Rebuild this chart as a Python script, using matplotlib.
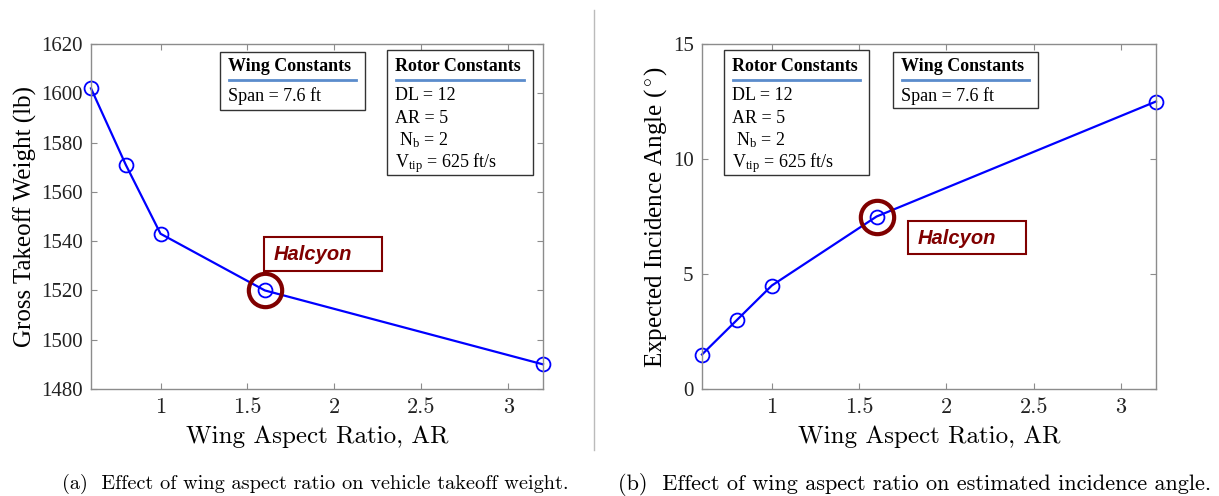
import numpy as np
import matplotlib.pyplot as plt
from matplotlib.patches import Rectangle
from matplotlib.lines import Line2D

# data
ar = [0.6, 0.8, 1.0, 1.6, 3.2]
gtow = [1602, 1571, 1543, 1520, 1490]
incidence = [1.5, 3.0, 4.5, 7.5, 12.5]
halcyon_ar = 1.6
halcyon_gtow = 1520
halcyon_inc = 7.5

xticks = [1, 1.5, 2, 2.5, 3]
xticklabels = ['1', '1.5', '2', '2.5', '3']
gtow_ticks = [1480, 1500, 1520, 1540, 1560, 1580, 1600, 1620]
inc_ticks = [0, 5, 10, 15]

wing_lines = ['Span = 7.6 ft']
rotor_lines = ['DL = 12', 'AR = 5', r' N$_\mathrm{b}$ = 2', r'V$_\mathrm{tip}$ = 625 ft/s']

W, H = 1219, 496
plt.rcParams['mathtext.fontset'] = 'custom'
plt.rcParams['mathtext.rm'] = 'Liberation Serif'
plt.rcParams['mathtext.it'] = 'Liberation Serif:italic'

TIMES = 'Liberation Serif'
CM = 'cmr10'
DARKRED = '#800000'
GRAY = '#8c8c8c'

fig = plt.figure(figsize=(W/100, H/100), dpi=100)


def fx(x):
    return x / W


def fy(y):
    return 1 - y / H


def axes_px(l, t, r, b):
    return fig.add_axes([fx(l), fy(b), (r - l) / W, (b - t) / H])


def const_box(l, t, r, b, title, lines):
    fig.patches.append(Rectangle((fx(l), fy(b)), (r - l) / W, (b - t) / H,
                                 transform=fig.transFigure, fill=True, fc='white',
                                 ec='#333333', lw=1.0, zorder=5))
    fig.text(fx(l + 8), fy(67), title, family=TIMES, weight='bold', fontsize=13,
             va='center', ha='left', zorder=6)
    fig.add_artist(Line2D([fx(l + 9), fx(r - 9)], [fy(80), fy(80)],
                          transform=fig.transFigure, color='#5b8ccc', lw=2, zorder=6))
    for i, s in enumerate(lines):
        fig.text(fx(l + 8), fy(96 + 22.3 * i), s, family=TIMES, fontsize=13,
                 va='center', ha='left', zorder=6)


def halcyon_box(l, t, r, b):
    fig.patches.append(Rectangle((fx(l), fy(b)), (r - l) / W, (b - t) / H,
                                 transform=fig.transFigure, fill=True, fc='white',
                                 ec=DARKRED, lw=1.5, zorder=5))
    fig.text(fx(l + 10), fy((t + b) / 2 + 1), 'Halcyon', family='Liberation Sans',
             weight='bold', style='italic', fontsize=14.5, color=DARKRED,
             va='center', ha='left', zorder=6)


def style_axes(ax, yticks):
    ax.set_xlim(0.6, 3.2)
    ax.set_xticks(xticks)
    ax.set_xticklabels(xticklabels, family=CM, fontsize=16)
    ax.set_yticks(yticks)
    ax.set_yticklabels([str(v) for v in yticks], family=TIMES, fontsize=15)
    ax.tick_params(direction='in', length=4, color=GRAY, top=True, right=True,
                   pad=6, labelcolor='#222222')
    for sp in ax.spines.values():
        sp.set_color(GRAY)
        sp.set_linewidth(1.0)
    ax.set_xlabel('Wing Aspect Ratio, AR', family=CM, fontsize=18, labelpad=6)


# (a) takeoff weight
ax1 = axes_px(91, 44, 543, 389)
ax1.plot(ar, gtow, '-o', color='blue', lw=1.6, ms=10, mfc='none', mew=1.3, clip_on=False)
ax1.plot([halcyon_ar], [halcyon_gtow], 'o', ms=24, mfc='none', mec=DARKRED, mew=3, clip_on=False)
ax1.set_ylim(1480, 1620)
style_axes(ax1, gtow_ticks)
ax1.set_ylabel('Gross Takeoff Weight (lb)', family=TIMES, fontsize=18, labelpad=3)

# (b) incidence angle
ax2 = axes_px(702, 44, 1156, 389)
ax2.plot(ar, incidence, '-o', color='blue', lw=1.6, ms=10, mfc='none', mew=1.3, clip_on=False)
ax2.plot([halcyon_ar], [halcyon_inc], 'o', ms=24, mfc='none', mec=DARKRED, mew=3, clip_on=False)
ax2.set_ylim(0, 15)
style_axes(ax2, inc_ticks)
ax2.set_ylabel(r'Expected Incidence Angle ($^\circ$)', family=TIMES, fontsize=18, labelpad=3)

const_box(220, 52, 365, 110, 'Wing Constants', wing_lines)
const_box(387, 50, 533, 175, 'Rotor Constants', rotor_lines)
const_box(724, 50, 869, 175, 'Rotor Constants', rotor_lines)
const_box(893, 52, 1038, 108, 'Wing Constants', wing_lines)

halcyon_box(264, 237, 382, 271)
halcyon_box(908, 221, 1026, 254)

# separator between the subfigures
fig.add_artist(Line2D([fx(594), fx(594)], [fy(10), fy(450)], transform=fig.transFigure,
                      color='#bbbbbb', lw=1))

fig.text(fx(62), fy(484), '(a)  Effect of wing aspect ratio on vehicle takeoff weight.',
         family=CM, fontsize=14.6, ha='left', va='center')
fig.text(fx(618), fy(484), '(b)  Effect of wing aspect ratio on estimated incidence angle.',
         family=CM, fontsize=16, ha='left', va='center')

fig.savefig('out.png', dpi=100, facecolor='white')
